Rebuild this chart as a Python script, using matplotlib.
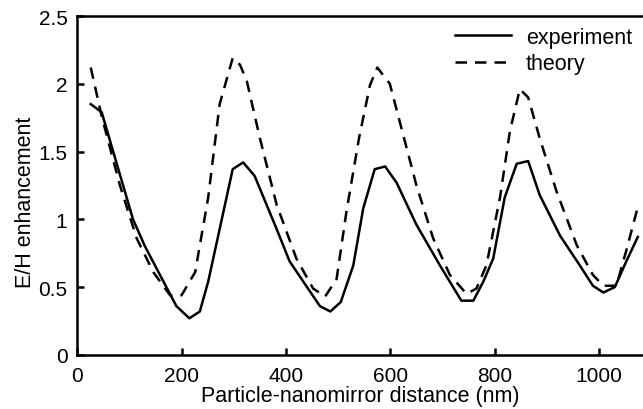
import numpy as np
import matplotlib
matplotlib.use("Agg")
import matplotlib.pyplot as plt

plt.rcParams['font.family'] = ['Liberation Sans', 'DejaVu Sans']

# experiment (solid)
exp_x = [26, 47, 107, 130, 190, 215, 235, 251, 298, 318, 340, 382, 407, 465, 485, 505,
         529, 548, 570, 590, 612, 650, 695, 736, 759, 778, 797, 819, 842, 864, 886,
         925, 963, 988, 1008, 1030, 1052, 1074]
exp_y = [1.85, 1.79, 1.00, 0.80, 0.36, 0.27, 0.32, 0.54, 1.37, 1.42, 1.32, 0.93, 0.69, 0.36, 0.32, 0.39,
         0.66, 1.08, 1.37, 1.39, 1.27, 0.96, 0.66, 0.40, 0.40, 0.54, 0.71, 1.16, 1.41, 1.43, 1.18,
         0.88, 0.66, 0.51, 0.46, 0.50, 0.69, 0.87]

# theory (dashed)
th_x = [26, 47, 82, 114, 146, 178, 200, 226, 251, 273, 298, 312, 325, 350, 382, 420, 452, 475,
        497, 516, 540, 561, 575, 599, 618, 650, 682, 714, 746, 765, 784, 810, 829, 848, 864,
        886, 918, 957, 988, 1008, 1033, 1052, 1074]
th_y = [2.12, 1.76, 1.25, 0.86, 0.61, 0.44, 0.44, 0.61, 1.16, 1.85, 2.19, 2.14, 2.02, 1.60, 1.11, 0.71, 0.49, 0.43,
        0.56, 1.06, 1.60, 1.99, 2.12, 2.00, 1.72, 1.25, 0.86, 0.59, 0.45, 0.49, 0.66, 1.16, 1.65, 1.96, 1.90,
        1.60, 1.21, 0.81, 0.59, 0.51, 0.51, 0.77, 1.09]

fig = plt.figure(figsize=(6.43, 4.10), dpi=100)
ax = fig.add_axes([0.120, 0.132, 0.880, 0.8265])

ax.plot(exp_x, exp_y, color='black', lw=1.8, label='experiment')
ax.plot(th_x, th_y, color='black', lw=1.8, dashes=(4.6, 3.2), label='theory')

ax.set_xlim(0, 1084)
ax.set_ylim(0, 2.5)
ax.set_xticks([0, 200, 400, 600, 800, 1000])
ax.set_yticks([0, 0.5, 1, 1.5, 2, 2.5])
ax.set_yticklabels(['0', '0.5', '1', '1.5', '2', '2.5'])
ax.tick_params(direction='in', length=5, width=1.8, labelsize=15, pad=7)
ax.tick_params(axis='x', pad=8)

for s in ['left', 'bottom', 'top']:
    ax.spines[s].set_linewidth(1.8)
ax.spines['right'].set_visible(False)

ax.set_xlabel('Particle-nanomirror distance (nm)', fontsize=15.5, labelpad=0)
ax.set_ylabel('E/H enhancement', fontsize=15.5)
ax.yaxis.set_label_coords(-0.072, 0.454)

ax.legend(loc='upper right', frameon=False, fontsize=15.5, handlelength=2.6,
          borderaxespad=0.1, labelspacing=0.25, handletextpad=0.7)

fig.savefig('out.png', dpi=100)
